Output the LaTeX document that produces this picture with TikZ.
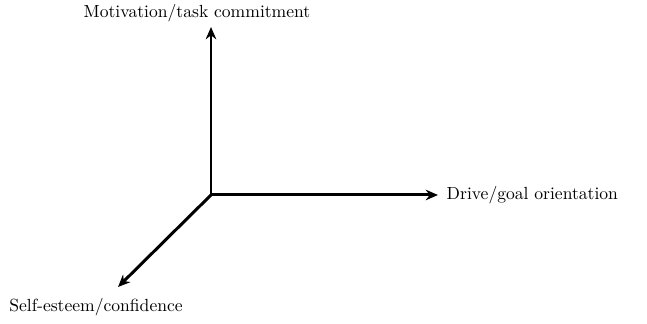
\documentclass[tikz,border=0pt]{standalone}
\usetikzlibrary{positioning,arrows.meta}

\begin{document}
\begin{tikzpicture}[>={Stealth[length=7pt,width=6pt]}]
            \useasboundingbox (0,0) rectangle (12.94,6.48);
            \coordinate (O) at (4.22,2.58);
            \coordinate (up) at (4.22,5.94);
            \coordinate (right) at (8.76,2.58);
            \coordinate (diag) at (2.36,0.74);
            \draw[line width=1.7pt,->](O)--(up);
            \draw[line width=1.7pt,->](O)--(right);
            \draw[line width=1.7pt,->](O)--(diag);
            \node (motiv) at (3.94,6.22) {Motivation/task commitment};
            \node[right=0.05 of right] (drive) {Drive/goal orientation};
            \node (self) at (1.92,0.34) {Self-esteem/confidence};
        \end{tikzpicture}
\end{document}
